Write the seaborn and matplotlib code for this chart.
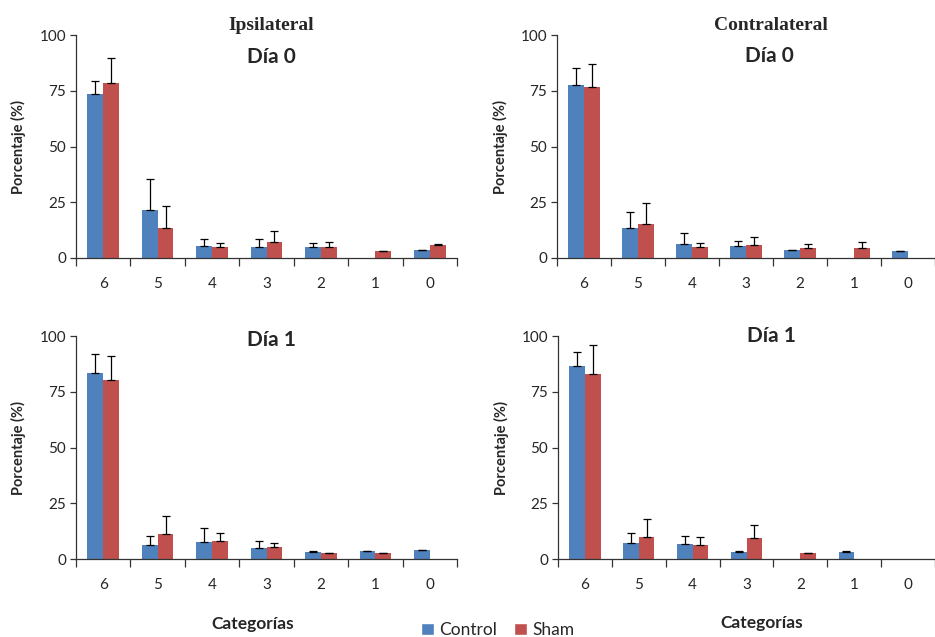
import matplotlib
matplotlib.use("Agg")
import matplotlib.pyplot as plt
from matplotlib.patches import Patch
import numpy as np
import pandas as pd
import seaborn as sns

# categories in display order
categorias = ["6", "5", "4", "3", "2", "1", "0"]
grupos = ["Control", "Sham"]

# mean percentages and upper error (SD) per panel
ipsi_d0_control = [73.4, 21.6, 5.2, 4.8, 4.8, 0.0, 3.4]
ipsi_d0_control_err = [6.1, 13.7, 3.2, 3.6, 1.8, 0.0, 0.2]
ipsi_d0_sham = [78.3, 13.5, 4.8, 7.0, 4.8, 3.1, 6.0]
ipsi_d0_sham_err = [11.5, 9.7, 2.1, 5.1, 2.2, 0.2, 0.2]

contra_d0_control = [77.8, 13.5, 6.3, 5.4, 3.6, 0.0, 3.1]
contra_d0_control_err = [7.5, 7.0, 4.8, 2.1, 0.1, 0.0, 0.1]
contra_d0_sham = [76.5, 15.3, 4.8, 5.8, 4.5, 4.5, 0.0]
contra_d0_sham_err = [10.3, 9.4, 1.8, 3.5, 1.6, 2.5, 0.0]

ipsi_d1_control = [83.4, 6.3, 7.6, 4.9, 3.1, 3.6, 4.0]
ipsi_d1_control_err = [8.4, 3.9, 6.2, 3.2, 0.3, 0.1, 0.2]
ipsi_d1_sham = [80.1, 11.2, 8.2, 5.4, 2.5, 2.5, 0.0]
ipsi_d1_sham_err = [11.1, 8.0, 3.5, 1.6, 0.2, 0.2, 0.0]

contra_d1_control = [86.5, 7.2, 6.7, 3.1, 0.0, 3.1, 0.0]
contra_d1_control_err = [6.2, 4.5, 3.6, 0.3, 0.0, 0.3, 0.0]
contra_d1_sham = [82.9, 9.9, 6.3, 9.4, 2.5, 0.0, 0.0]
contra_d1_sham_err = [12.9, 7.9, 3.4, 5.7, 0.2, 0.0, 0.0]

COLORS = ["#4F81BD", "#C0504D"]
AX_COLOR = "#333333"

sns.set_style("ticks")
plt.rcParams["font.family"] = ["Lato", "DejaVu Sans"]


def panel(ax, ctrl, ctrl_err, sham, sham_err):
    df = pd.DataFrame({
        "categoria": categorias * 2,
        "valor": list(ctrl) + list(sham),
        "grupo": ["Control"] * len(categorias) + ["Sham"] * len(categorias),
    })
    sns.barplot(data=df, x="categoria", y="valor", hue="grupo",
                order=categorias, hue_order=grupos, palette=COLORS,
                width=0.58, errorbar=None, saturation=1, legend=False,
                linewidth=0, ax=ax)
    # one-sided (upper) error bars, centred on each bar
    for cont, means, errs in zip(ax.containers, [ctrl, sham], [ctrl_err, sham_err]):
        for patch, m, e in zip(cont.patches, means, errs):
            if m <= 0:
                continue
            xc = patch.get_x() + patch.get_width() / 2
            ax.errorbar(xc, m, yerr=[[0], [e]], color="black", lw=0.9,
                        capsize=3, capthick=0.9, zorder=1)
    ax.set_ylim(0, 100)
    ax.set_xlim(-0.5, len(categorias) - 0.5)
    ax.set_yticks([0, 25, 50, 75, 100])
    ax.tick_params(axis="y", length=4, width=0.9, color=AX_COLOR,
                   labelsize=11, labelcolor="#262626", pad=3)
    # tick marks between categories, labels at centres
    ax.set_xticks(np.arange(-0.5, len(categorias), 1.0))
    ax.set_xticklabels([])
    ax.set_xticks(np.arange(len(categorias)), minor=True)
    ax.set_xticklabels(categorias, minor=True)
    ax.tick_params(axis="x", which="major", length=6, width=0.9, color=AX_COLOR)
    ax.tick_params(axis="x", which="minor", length=0, pad=14,
                   labelsize=11, labelcolor="#262626")
    for side in ("top", "right"):
        ax.spines[side].set_visible(False)
    for side in ("left", "bottom"):
        ax.spines[side].set_color(AX_COLOR)
        ax.spines[side].set_linewidth(0.9)
    ax.set_xlabel("")
    ax.set_ylabel("Porcentaje (%)", fontsize=10.5, fontweight="bold")


fig = plt.figure(figsize=(9.35, 6.37), dpi=100)
ax1 = fig.add_axes([0.0813, 0.595, 0.4075, 0.350])
ax2 = fig.add_axes([0.5957, 0.595, 0.4043, 0.350])
ax3 = fig.add_axes([0.0813, 0.1224, 0.4075, 0.350])
ax4 = fig.add_axes([0.5968, 0.1224, 0.4032, 0.350])

panel(ax1, ipsi_d0_control, ipsi_d0_control_err, ipsi_d0_sham, ipsi_d0_sham_err)
panel(ax2, contra_d0_control, contra_d0_control_err, contra_d0_sham, contra_d0_sham_err)
panel(ax3, ipsi_d1_control, ipsi_d1_control_err, ipsi_d1_sham, ipsi_d1_sham_err)
panel(ax4, contra_d1_control, contra_d1_control_err, contra_d1_sham, contra_d1_sham_err)

for ax in (ax1, ax3):
    ax.yaxis.set_label_coords(-0.13, 0.5)
for ax in (ax2, ax4):
    ax.yaxis.set_label_coords(-0.13, 0.5)

serif = ["Liberation Serif", "DejaVu Serif"]
ax1.text(0.512, 1.045, "Ipsilateral", transform=ax1.transAxes, ha="center",
         va="center", fontsize=14, fontweight="bold", family=serif)
ax2.text(0.566, 1.045, "Contralateral", transform=ax2.transAxes, ha="center",
         va="center", fontsize=14, fontweight="bold", family=serif)
ax1.text(0.512, 0.901, "Día 0", transform=ax1.transAxes, ha="center",
         va="center", fontsize=15, fontweight="bold")
ax2.text(0.563, 0.906, "Día 0", transform=ax2.transAxes, ha="center",
         va="center", fontsize=15, fontweight="bold")
ax3.text(0.514, 0.982, "Día 1", transform=ax3.transAxes, ha="center",
         va="center", fontsize=15, fontweight="bold")
ax4.text(0.565, 1.0, "Día 1", transform=ax4.transAxes, ha="center",
         va="center", fontsize=15, fontweight="bold")

ax3.text(0.465, -0.29, "Categorías", transform=ax3.transAxes, ha="center",
         va="center", fontsize=12.5, fontweight="bold")
ax4.text(0.541, -0.287, "Categorías", transform=ax4.transAxes, ha="center",
         va="center", fontsize=12.5, fontweight="bold")

handles = [Patch(facecolor=c, label=g) for c, g in zip(COLORS, grupos)]
fig.legend(handles=handles, loc="center", bbox_to_anchor=(0.532, 0.011),
           ncol=2, frameon=False, fontsize=12.5, handlelength=0.75,
           handleheight=0.75, handletextpad=0.3, columnspacing=1.0)

fig.savefig("out.png", dpi=100)
